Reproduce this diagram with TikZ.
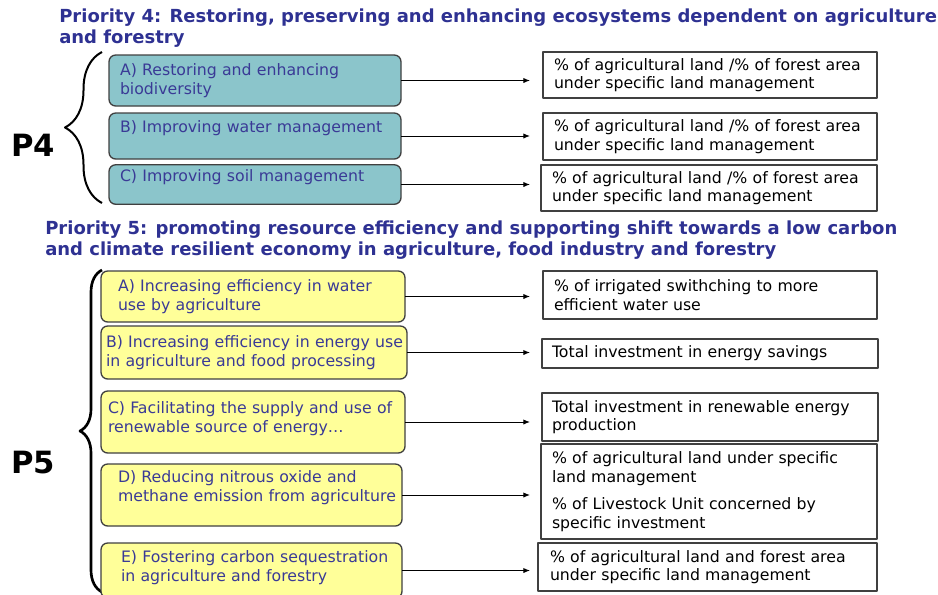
\documentclass[tikz,border=0pt]{standalone}
\usepackage{fontspec}
\setmainfont{DejaVu Sans}
\usetikzlibrary{decorations.pathreplacing,arrows.meta}
\definecolor{navy}{RGB}{46,49,146}
\definecolor{boxtext}{RGB}{58,58,150}
\definecolor{teal4}{RGB}{139,197,203}
\definecolor{yellow5}{RGB}{255,255,153}
\definecolor{edge}{RGB}{64,64,64}
\begin{document}
\begin{tikzpicture}[x=0.75pt,y=-0.75pt,line join=round,>={Latex[length=5pt,width=4pt]},
	heading/.style={anchor=north west,inner sep=0pt,align=left,text=navy,font=\fontsize{13.5}{15.75}\selectfont\bfseries},
	prio/.style={anchor=west,inner sep=0pt,font=\fontsize{23}{27}\selectfont\bfseries},
	lpad/.style={execute at begin node={\leftskip=#1\relax}},
	goal/.style={anchor=west,outer sep=0pt,inner xsep=0pt,draw=edge,line width=1pt,rounded corners=5pt,align=left,text=boxtext,font=\fontsize{11.8}{13.9}\selectfont},
	p4box/.style={goal,fill=teal4},
	p5box/.style={goal,fill=yellow5},
	ind/.style={anchor=west,outer sep=0pt,inner xsep=0pt,draw=edge,line width=1pt,align=left,lpad=8.25pt,font=\fontsize{11.8}{13.9}\selectfont}]
	\useasboundingbox (0,0) rectangle (938,594);
	%Priority 4
	\node[heading] (t4) at (59,9) {Priority 4: Restoring, preserving and enhancing ecosystems dependent on agriculture\\and forestry};
	\node[prio] (p4) at (11,145) {P4};
	\draw[decorate,decoration={brace,amplitude=27.75pt},line width=1.5pt] (102,203)--(102,52);
	\node[p4box,minimum height=38.25pt,text width=219pt,lpad=8.25pt] (pa) at (109,80.5) {A) Restoring and enhancing\\biodiversity};
	\node[p4box,minimum height=34.5pt,text width=219pt,lpad=8.25pt,text depth=14pt] (pb) at (109,136) {B) Improving water management};
	\node[p4box,minimum height=29.25pt,text width=219pt,lpad=8.25pt,text depth=14pt] (pc) at (109,184.5) {C) Improving soil management};
	\node[ind,minimum height=34.5pt,text width=250.5pt] (ra) at (543,75) {\% of agricultural land /\% of forest area\\under specific land management};
	\node[ind,minimum height=35.25pt,text width=250.5pt] (rb) at (543,136.5) {\% of agricultural land /\% of forest area\\under specific land management};
	\node[ind,minimum height=34.5pt,text width=252pt] (rc) at (541,188) {\% of agricultural land /\% of forest area\\under specific land management};
	%Priority 5
	\node[heading] (t5) at (45,221) {Priority 5: promoting resource efficiency and supporting shift towards a low carbon\\and climate resilient economy in agriculture, food industry and forestry};
	\node[prio] (p5) at (11,463) {P5};
	\draw[decorate,decoration={brace,amplitude=16.5pt},line width=2pt] (102,592)--(102,270);
	\node[p5box,minimum height=38.25pt,text width=228pt,lpad=12.75pt] (qa) at (101,296.5) {A) Increasing efficiency in water\\use by agriculture};
	\node[p5box,minimum height=39.75pt,text width=229.5pt,lpad=3.75pt] (qb) at (101,352.5) {B) Increasing efficiency in energy use\\in agriculture and food processing};
	\node[p5box,minimum height=46.5pt,text width=228pt,lpad=5.25pt,text depth=21pt] (qc) at (101,422) {C) Facilitating the supply and use of\\renewable source of energy…};
	\node[p5box,minimum height=46.5pt,text width=225.75pt,lpad=12.75pt,text depth=27pt] (qd) at (101,495) {D) Reducing nitrous oxide and\\methane emission from agriculture};
	\node[p5box,minimum height=41.25pt,text width=225.75pt,lpad=15pt,text depth=21pt] (qe) at (101,570.5) {E) Fostering carbon sequestration\\in agriculture and forestry};
	\node[ind,minimum height=36pt,text width=250.5pt] (sa) at (543,295) {\% of irrigated swithching to more\\efficient water use};
	\node[ind,minimum height=21.75pt,text width=252pt,lpad=7.5pt] (sb) at (542,353.5) {Total investment in energy savings};
	\node[ind,minimum height=36pt,text width=252pt,lpad=7.5pt] (sc) at (542,417) {Total investment in renewable energy\\production};
	\node[ind,minimum height=71.25pt,text width=252pt] (sd) at (541,491.5) {\% of agricultural land under specific\\land management\\[6.75pt]\% of Livestock Unit concerned by\\specific investment};
	\node[ind,minimum height=36pt,text width=254.25pt,lpad=9pt] (se) at (538,567) {\% of agricultural land and forest area\\under specific land management};
	%arrows
	\coordinate (tip) at (530,0);
	\foreach \b in {pa,pb,pc,qa,qb,qc,qd,qe}
		\draw[->,line width=0.75pt] (\b.east)--(\b.east -| tip);
\end{tikzpicture}
\end{document}
